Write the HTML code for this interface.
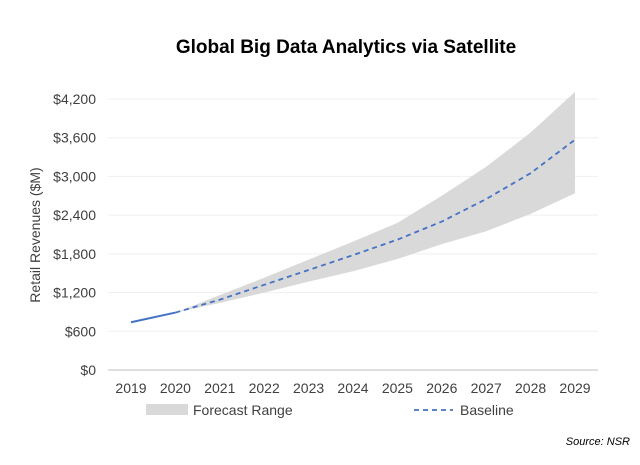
<!DOCTYPE html>
<html><head><meta charset="utf-8"><style>
body{margin:0;background:#fff;font-family:"Liberation Sans",sans-serif;}
svg text{font-family:"Liberation Sans",sans-serif;}
</style></head><body>
<svg id="chart" width="640" height="460">
<rect width="640" height="460" fill="#fff"/>
<text x="346" y="53" text-anchor="middle" font-size="19" font-weight="bold" fill="#000">Global Big Data Analytics via Satellite</text>
<text transform="translate(40,235) rotate(-90)" text-anchor="middle" font-size="14" fill="#404040">Retail Revenues ($M)</text>
<g id="grid"></g><g id="marks"></g><g id="axes"></g>
<g>
<rect x="146" y="404" width="42" height="11" fill="#d9d9d9"/>
<text x="193" y="415" font-size="14" fill="#404040">Forecast Range</text>
<line x1="414" y1="410" x2="453" y2="410" stroke="#4472c4" stroke-width="1.8" stroke-dasharray="5,4"/>
<text x="460" y="415" font-size="14" fill="#404040">Baseline</text>
</g>
<text x="630" y="445" text-anchor="end" font-size="11" font-style="italic" fill="#000">Source: NSR</text>
</svg>
<script>
const years=["2019","2020","2021","2022","2023","2024","2025","2026","2027","2028","2029"];
const baseline=[740,890,1090,1320,1550,1780,2020,2300,2650,3050,3570];
const upper=[740,890,1160,1430,1710,1990,2280,2700,3150,3680,4310];
const lower=[740,890,1040,1200,1370,1530,1720,1950,2150,2420,2740];
const yTicks=[0,600,1200,1800,2400,3000,3600,4200];
const yLabels=["$0","$600","$1,200","$1,800","$2,400","$3,000","$3,600","$4,200"];
const NS="http://www.w3.org/2000/svg";
const x=i=>131+i*44.4;
const y=v=>370-v*(271/4200);
function mk(t,a,p){const e=document.createElementNS(NS,t);for(const k in a)e.setAttribute(k,a[k]);p.appendChild(e);return e;}
const grid=document.getElementById('grid'),marks=document.getElementById('marks'),axes=document.getElementById('axes');
yTicks.forEach((v,i)=>{
  const l=mk('line',{x1:108,x2:598,y1:y(v),y2:y(v),stroke:i==0?'#bfbfbf':'#efefef','stroke-width':1},grid);
  
  
  const t=mk('text',{x:96,y:y(v)+5,'text-anchor':'end','font-size':14,fill:'#404040'},axes);
  t.textContent=yLabels[i];
  
  
});
years.forEach((yr,i)=>{
  const t=mk('text',{x:x(i),y:393,'text-anchor':'middle','font-size':14,fill:'#404040'},axes);
  t.textContent=yr;
  
  
});
let d='';
for(let i=1;i<years.length;i++)d+=(i==1?'M':'L')+x(i)+','+y(upper[i]);
for(let i=years.length-1;i>=1;i--)d+='L'+x(i)+','+y(lower[i]);
const area=mk('path',{d:d+'Z',fill:'#d9d9d9'},marks);


const solid=mk('polyline',{points:x(0)+','+y(baseline[0])+' '+x(1)+','+y(baseline[1]),fill:'none',stroke:'#4472c4','stroke-width':2},marks);


let pts=[];for(let i=1;i<years.length;i++)pts.push(x(i)+','+y(baseline[i]));
const dash=mk('polyline',{points:pts.join(' '),fill:'none',stroke:'#4472c4','stroke-width':1.8,'stroke-dasharray':'5,4'},marks);


</script>
</body></html>
